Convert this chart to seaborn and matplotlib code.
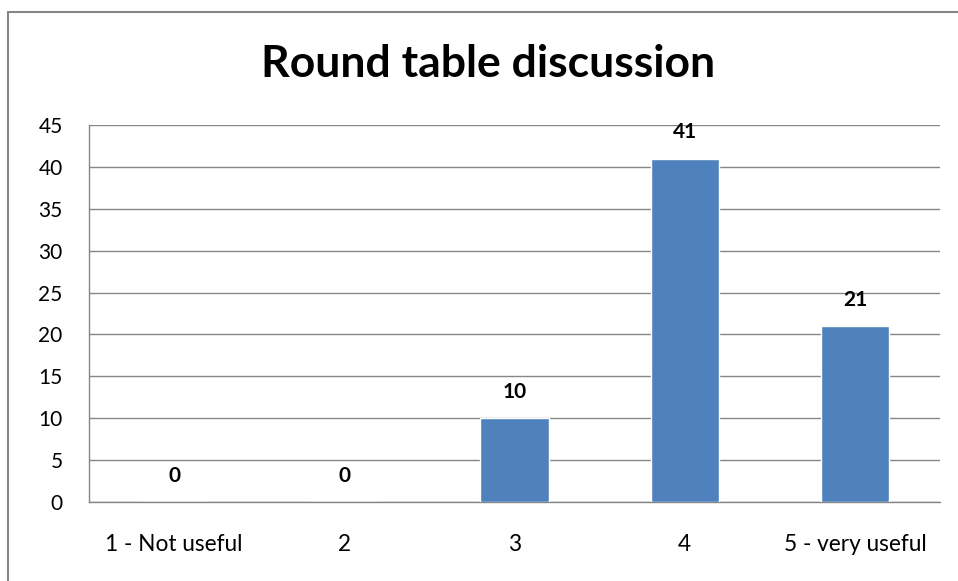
import matplotlib
matplotlib.use("Agg")
import matplotlib.pyplot as plt
import seaborn as sns
import pandas as pd
from matplotlib.patches import Rectangle

categories = ["1 - Not useful", "2", "3", "4", "5 - very useful"]
values = [0, 0, 10, 41, 21]
yticks = [0, 5, 10, 15, 20, 25, 30, 35, 40, 45]
title = "Round table discussion"

sns.set_style("white")
plt.rcParams["font.family"] = ["Lato", "DejaVu Sans"]
plt.rcParams["text.color"] = "black"

df = pd.DataFrame({"cat": categories, "val": values})

fig = plt.figure(figsize=(9.58, 5.81), dpi=100)
ax = fig.add_axes([89/958, 1 - 502/581, (940-89)/958, (502-125)/581])

sns.barplot(data=df, x="cat", y="val", color="#4F81BD", width=0.4,
            saturation=1, ax=ax, zorder=3)

ax.set_ylim(0, 45)
ax.set_yticks(yticks)
ax.set_xlim(-0.5, len(categories) - 0.5)
ax.yaxis.grid(True, color="#868686", linewidth=1, zorder=0)
ax.xaxis.grid(False)
ax.set_axisbelow(True)
for s in ["top", "right"]:
    ax.spines[s].set_visible(False)
ax.spines["left"].set_color("#868686")
ax.spines["bottom"].set_color("#868686")
ax.spines["left"].set_linewidth(1)
ax.spines["bottom"].set_linewidth(1)
ax.tick_params(axis="y", length=0, pad=19, labelsize=15, labelcolor="black")
ax.tick_params(axis="x", length=0, pad=23, labelsize=16.3, labelcolor="black")
ax.set_xlabel("")
ax.set_ylabel("")

for i, v in enumerate(values):
    ax.annotate(str(v), (i, v), xytext=(0, 19), textcoords="offset points",
                ha="center", va="center", fontsize=15, fontweight="bold",
                color="black")

fig.text(488/958, 1 - 64/581, title, ha="center", va="center",
         fontsize=32, fontweight="bold", color="black")

fig.patches.append(Rectangle((8/958, -0.1), 1.2, (1 - 12/581) + 0.1,
                             transform=fig.transFigure, fill=False,
                             edgecolor="#868686", linewidth=1.5))

fig.savefig("out.png", dpi=100)
